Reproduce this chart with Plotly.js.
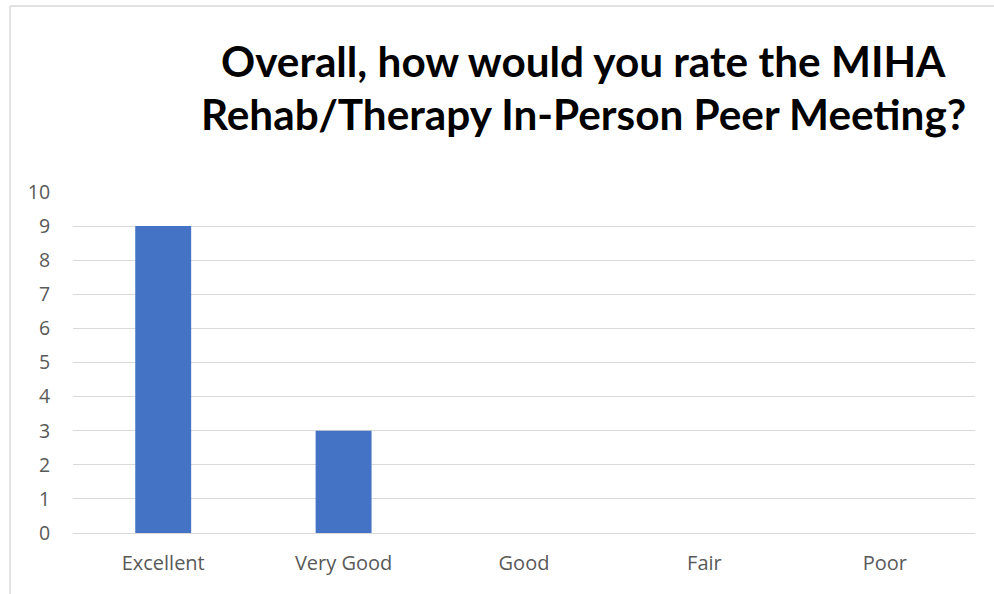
<!DOCTYPE html>
<html>
<head>
<meta charset="utf-8">
<script src="https://cdn.plot.ly/plotly-3.0.1.min.js"></script>
<style>html,body{margin:0;padding:0;background:#fff;}#chart{width:994px;height:594px;}</style>
</head>
<body>
<div id="chart"></div>
<script>
const categories = ["Excellent", "Very Good", "Good", "Fair", "Poor"];
const counts = [9, 3, 0, 0, 0];
const yTicks = [0, 1, 2, 3, 4, 5, 6, 7, 8, 9, 10];
const titleLines = ["Overall, how would you rate the MIHA", "Rehab/Therapy In-Person Peer Meeting?"];

const W = 994, H = 594;
const M = {l: 73, r: 19, t: 192, b: 61};
const pw = W - M.l - M.r, ph = H - M.t - M.b;
const px = x => (x - M.l) / pw;
const py = y => (H - M.b - y) / ph;

const trace = {
  type: 'bar',
  x: categories,
  y: counts,
  marker: {color: '#4472C4'},
  hoverinfo: 'x+y'
};

const tickFont = {family: '"Open Sans", sans-serif', size: 20, color: '#595959'};

const layout = {
  width: W, height: H,
  margin: M,
  paper_bgcolor: '#ffffff',
  plot_bgcolor: '#ffffff',
  bargap: 0.69,
  showlegend: false,
  font: tickFont,
  xaxis: {
    type: 'category',
    showgrid: false,
    showline: true, linecolor: '#d9d9d9', linewidth: 1,
    zeroline: false,
    ticks: 'outside', ticklen: 12, tickcolor: 'rgba(0,0,0,0)',
    tickfont: tickFont
  },
  yaxis: {
    range: [0, 10],
    tickvals: yTicks,
    showgrid: true, gridcolor: '#d9d9d9', gridwidth: 1,
    zeroline: false, showline: false,
    ticks: 'outside', ticklen: 18, tickcolor: 'rgba(0,0,0,0)',
    tickfont: {family: '"Open Sans", sans-serif', size: 19.5, color: '#595959'}
  },
  annotations: titleLines.map((t, i) => ({
    text: '<b>' + t + '</b>',
    xref: 'paper', yref: 'paper',
    x: px(583), y: py(i === 0 ? 61 : 113),
    xanchor: 'center', yanchor: 'middle',
    showarrow: false,
    font: {family: 'Lato, sans-serif', size: 42.3, color: '#000000'}
  })),
  shapes: [
    {type: 'line', xref: 'paper', yref: 'paper', x0: px(10), x1: px(10), y0: py(6), y1: py(600), line: {color: '#d9d9d9', width: 1.5}},
    {type: 'line', xref: 'paper', yref: 'paper', x0: px(10), x1: px(1000), y0: py(6), y1: py(6), line: {color: '#d9d9d9', width: 1.5}}
  ]
};

Plotly.newPlot('chart', [trace], layout, {displayModeBar: false, staticPlot: true});
</script>
</body>
</html>
